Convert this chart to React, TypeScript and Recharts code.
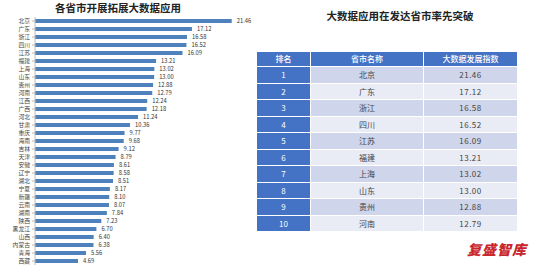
import React from "react";
import { BarChart, Bar, XAxis, YAxis, LabelList } from "recharts";

const provinces = [
  "北京", "广东", "浙江", "四川", "江苏", "福建", "上海", "山东", "贵州", "河南",
  "江西", "广西", "河北", "甘肃", "重庆", "海南", "吉林", "天津", "安徽", "辽宁",
  "湖北", "宁夏", "新疆", "云南", "湖南", "陕西", "黑龙江", "山西", "内蒙古", "青海", "西藏",
];
const indexValues = [
  21.46, 17.12, 16.58, 16.52, 16.09, 13.21, 13.02, 13.0, 12.88, 12.79,
  12.24, 12.18, 11.24, 10.36, 9.77, 9.68, 9.12, 8.79, 8.61, 8.58,
  8.51, 8.17, 8.1, 8.07, 7.84, 7.23, 6.7, 6.4, 6.38, 5.56, 4.69,
];

const tableHeaders = ["排名", "省市名称", "大数据发展指数"];
const topCount = 10;

const chartData = provinces.map((name, i) => ({ name, value: indexValues[i] }));

const colWidths = [54, 113, 93];
const BLUE = "#4472c4";

export default function App() {
  const rows = chartData.slice(0, topCount);
  return (
    <div
      style={{
        position: "absolute",
        left: 0,
        top: 0,
        width: 554,
        height: 274,
        background: "#fff",
        overflow: "hidden",
        fontFamily: "'Noto Sans CJK SC', sans-serif",
      }}
    >
      <div
        style={{
          position: "absolute",
          left: 0,
          top: 1,
          width: 236,
          textAlign: "center",
          fontSize: 10.5,
          fontWeight: 700,
          color: "#222",
          lineHeight: "13px",
        }}
      >
        各省市开展拓展大数据应用
      </div>
      <div style={{ position: "absolute", left: 0, top: 0 }}>
        <BarChart
          width={262}
          height={274}
          data={chartData}
          layout="vertical"
          margin={{ top: 17, right: 7, left: 0, bottom: 9 }}
          barCategoryGap={2}
        >
          <XAxis type="number" domain={[0, 24]} hide />
          <YAxis
            type="category"
            dataKey="name"
            width={35}
            interval={0}
            tick={{ fontSize: 5.8, fill: "#444" }}
            tickLine={{ stroke: "#bbb" }}
            tickSize={3}
            axisLine={{ stroke: "#bbb" }}
          />
          <Bar dataKey="value" fill="#4f81bd" barSize={4} isAnimationActive={false}>
            <LabelList
              dataKey="value"
              position="right"
              offset={5}
              formatter={(v: number) => v.toFixed(2)}
              style={{ fontSize: 5.8, fill: "#333" }}
            />
          </Bar>
        </BarChart>
      </div>

      <div
        style={{
          position: "absolute",
          left: 300,
          top: 9,
          width: 200,
          textAlign: "center",
          fontSize: 10.5,
          fontWeight: 700,
          color: "#222",
          lineHeight: "14px",
        }}
      >
        大数据应用在发达省市率先突破
      </div>

      <div style={{ position: "absolute", left: 257, top: 52 }}>
        <div style={{ display: "flex", height: 15 }}>
          {tableHeaders.map((h, i) => (
            <div
              key={h}
              style={{
                width: colWidths[i],
                boxSizing: "border-box",
                background: BLUE,
                color: "#fff",
                fontSize: 8,
                fontWeight: 500,
                textAlign: "center",
                lineHeight: "14px",
                borderRight: i < 2 ? "1.5px solid #fff" : "none",
                borderBottom: "1.5px solid #fff",
              }}
            >
              {h}
            </div>
          ))}
        </div>
        {rows.map((r, idx) => {
          const bg = idx % 2 === 0 ? "#cfd5ea" : "#e9ebf5";
          const cells = [String(idx + 1), r.name, r.value.toFixed(2)];
          return (
            <div key={r.name} style={{ display: "flex", height: 16.5 }}>
              {cells.map((c, i) => (
                <div
                  key={i}
                  style={{
                    width: colWidths[i],
                    boxSizing: "border-box",
                    background: i === 0 ? BLUE : bg,
                    color: i === 0 ? "#fff" : "#444",
                    fontSize: 8,
                    fontWeight: 400,
                    textAlign: "center",
                    lineHeight: "15px",
                    letterSpacing: i === 2 ? 0.5 : 0,
                    borderRight: i < 2 ? "1.5px solid #fff" : "none",
                    borderBottom: "1.5px solid #fff",
                  }}
                >
                  {c}
                </div>
              ))}
            </div>
          );
        })}
      </div>

      <div
        style={{
          position: "absolute",
          left: 467,
          top: 241,
          fontSize: 14,
          fontWeight: 900,
          fontStyle: "italic",
          color: "#c8262c",
          letterSpacing: 1,
          lineHeight: "16px",
        }}
      >
        复盛智库
      </div>
    </div>
  );
}
